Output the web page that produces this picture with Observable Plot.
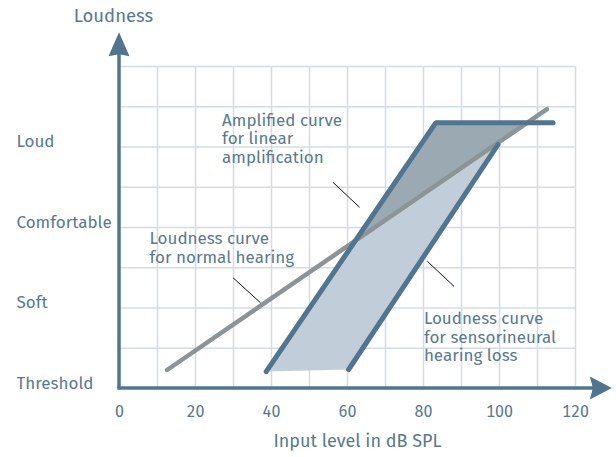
<!DOCTYPE html>
<html>
<head>
<meta charset="utf-8">
<script src="https://cdn.jsdelivr.net/npm/d3@7"></script>
<script src="https://cdn.jsdelivr.net/npm/@observablehq/plot@0.6"></script>
<style>
  html, body { margin: 0; padding: 0; background: #fff; }
  #chart { width: 616px; height: 457px; }
  svg { font-family: "Fira Sans", "Open Sans", sans-serif; }
</style>
</head>
<body>
<div id="chart"></div>
<script>
// ---- data ----
const loudnessLevels = [0, 1, 2, 3];
const loudnessLabels = ["Threshold", "Soft", "Comfortable", "Loud"];
const xTicks = [0, 20, 40, 60, 80, 100, 120];
const xGrid = [10, 20, 30, 40, 50, 60, 70, 80, 90, 100, 110, 120];
const yGrid = [0.5, 1, 1.5, 2, 2.5, 3, 3.5, 4];

// Loudness curve for normal hearing (grey line)
const normalX = [12.5, 112.5];
const normalY = [0.23, 3.47];
// Amplified curve for linear amplification
const amplifiedX = [38.6, 83.2, 114.1];
const amplifiedY = [0.21, 3.30, 3.30];
// Loudness curve for sensorineural hearing loss
const lossX = [60.3, 99.6];
const lossY = [0.236, 3.03];
// Shaded regions
const darkFillX = [62.0, 83.2, 107.3];
const darkFillY = [1.84, 3.30, 3.30];
const lightFillX = [38.6, 62.0, 99.6, 60.3];
const lightFillY = [0.21, 1.84, 3.03, 0.236];

// Annotations
const annoText = ["Amplified curve\nfor linear\namplification", "Loudness curve\nfor normal hearing", "Loudness curve\nfor sensorineural\nhearing loss"];
const annoX = [27.0, 7.9, 80.1];
const annoY = [3.43, 1.955, 0.965];
const leaderX1 = [56.2, 29.9, 81.0];
const leaderY1 = [2.56, 1.375, 1.58];
const leaderX2 = [63.2, 37.1, 88.0];
const leaderY2 = [2.25, 1.065, 1.27];

const xTitle = "Input level in dB SPL";
const yTitle = "Loudness";

// ---- build tables ----
const pts = (xs, ys) => xs.map((x, i) => ({x, y: ys[i]}));
const normal = pts(normalX, normalY);
const amplified = pts(amplifiedX, amplifiedY);
const loss = pts(lossX, lossY);
const darkFill = pts(darkFillX, darkFillY);
const lightFill = pts(lightFillX, lightFillY);
const annos = annoText.map((t, i) => ({t, x: annoX[i], y: annoY[i]}));
const leaders = leaderX1.map((x1, i) => ({x1, y1: leaderY1[i], x2: leaderX2[i], y2: leaderY2[i]}));

const textColor = "#587991";
const axisColor = "#52758f";
const gridColor = "#d3dce6";

const plot = Plot.plot({
  width: 616,
  height: 457,
  marginLeft: 119,
  marginRight: 41,
  marginTop: 66,
  marginBottom: 69,
  style: {fontFamily: '"Fira Sans", "Open Sans", sans-serif', fontSize: "16px", color: textColor, background: "#fff"},
  x: {domain: [0, 120]},
  y: {domain: [0, 4]},
  marks: [
    Plot.ruleX(xGrid, {stroke: gridColor, strokeWidth: 1.5, y1: 0, y2: 4}),
    Plot.ruleY(yGrid, {stroke: gridColor, strokeWidth: 1.5, x1: 0, x2: 120}),
    Plot.line(lightFill, {x: "x", y: "y", fill: "#c1ced9", stroke: "none", curve: "linear-closed"}),
    Plot.line(darkFill, {x: "x", y: "y", fill: "#9ba9b3", stroke: "none", curve: "linear-closed"}),
    Plot.line(normal, {x: "x", y: "y", stroke: "#8c9498", strokeWidth: 4.5, strokeLinecap: "round"}),
    Plot.line(amplified, {x: "x", y: "y", stroke: axisColor, strokeWidth: 5, strokeLinecap: "round", strokeLinejoin: "miter"}),
    Plot.line(loss, {x: "x", y: "y", stroke: axisColor, strokeWidth: 5, strokeLinecap: "round"}),
    Plot.link(leaders, {x1: "x1", y1: "y1", x2: "x2", y2: "y2", stroke: "#111", strokeWidth: 1}),
    Plot.text(annos, {x: "x", y: "y", text: "t", textAnchor: "start", lineAnchor: "top", fill: textColor, fontSize: 17, lineHeight: 1.1}),
    Plot.axisX(xTicks, {tickSize: 0, tickPadding: 17, fontSize: 16, fill: textColor, label: null}),
    Plot.axisY(loudnessLevels, {tickSize: 0, tickPadding: 0, tickFormat: (d, i) => loudnessLabels[i], textAnchor: "start", dx: -103, dy: -5, fontSize: 17, fill: textColor, label: null}),
    Plot.text([xTitle], {frameAnchor: "bottom", textAnchor: "middle", dx: 10, dy: 58, fontSize: 18, fill: textColor}),
    Plot.text([yTitle], {frameAnchor: "top-left", textAnchor: "middle", dx: -6, dy: -58, fontSize: 18.5, fill: textColor})
  ]
});

// axis lines with arrowheads, placed via the plot's own scales
const sx = plot.scale("x"), sy = plot.scale("y");
const x0 = sx.apply(0), y0 = sy.apply(0);
const xEnd = sx.apply(129.7), yEnd = sy.apply(4.42);
const svg = d3.select(plot.tagName === "svg" ? plot : plot.querySelector("svg"));
const g = svg.append("g").attr("fill", axisColor).attr("stroke", axisColor);
g.append("line").attr("x1", x0).attr("y1", y0).attr("x2", x0).attr("y2", yEnd + 20).attr("stroke-width", 3.5);
g.append("line").attr("x1", x0 - 1.75).attr("y1", y0).attr("x2", xEnd - 18).attr("y2", y0).attr("stroke-width", 3.5);
g.append("path").attr("stroke", "none")
  .attr("d", `M${x0},${yEnd} L${x0 + 10.5},${yEnd + 24} L${x0},${yEnd + 22} L${x0 - 10.5},${yEnd + 24} Z`);
g.append("path").attr("stroke", "none")
  .attr("d", `M${xEnd},${y0} L${xEnd - 22},${y0 - 11.5} L${xEnd - 19},${y0} L${xEnd - 22},${y0 + 11.5} Z`);

document.getElementById("chart").appendChild(plot);
</script>
</body>
</html>
